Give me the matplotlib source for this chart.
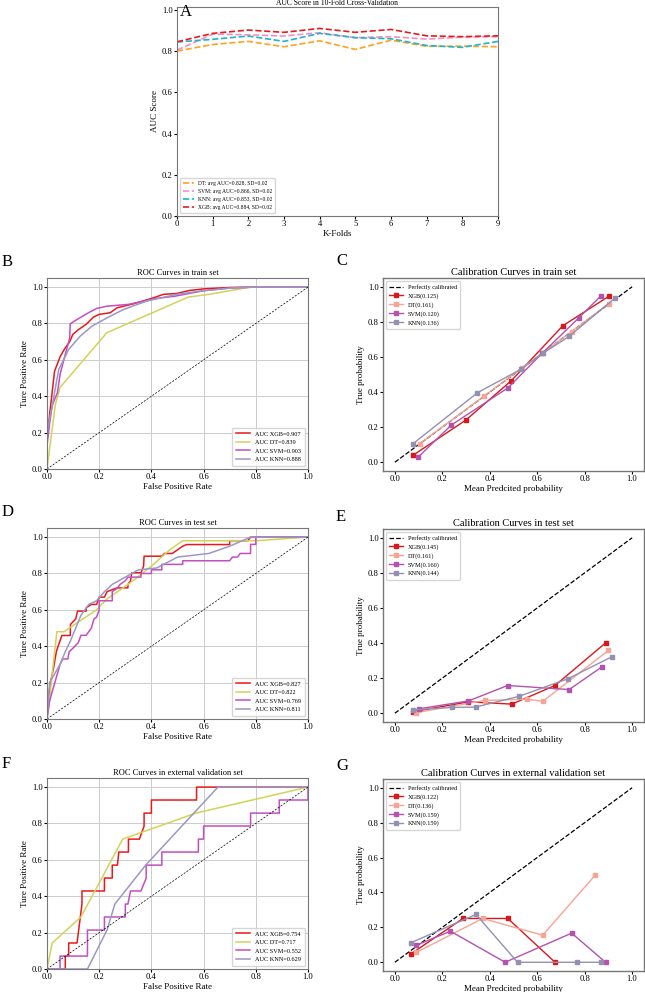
import matplotlib
matplotlib.use("Agg")
import matplotlib.pyplot as plt
import numpy as np

plt.rcParams['font.family'] = ['Liberation Serif', 'DejaVu Serif']

# ---------------- Panel A data ----------------
folds = list(range(10))
cv_dt = [0.801, 0.833, 0.848, 0.822, 0.851, 0.809, 0.854, 0.824, 0.825, 0.822]
cv_svm = [0.806, 0.883, 0.880, 0.874, 0.890, 0.866, 0.871, 0.859, 0.869, 0.871]
cv_knn = [0.845, 0.858, 0.874, 0.848, 0.887, 0.866, 0.861, 0.828, 0.819, 0.848]
cv_xgb = [0.846, 0.887, 0.903, 0.892, 0.911, 0.892, 0.906, 0.875, 0.871, 0.875]
cv_labels = ["DT: avg AUC=0.828, SD=0.02", "SVM: avg AUC=0.866, SD=0.02",
             "KNN: avg AUC=0.853, SD=0.02", "XGB: avg AUC=0.884, SD=0.02"]

# ---------------- ROC data: train ----------------
tr_xgb_fpr = [0, 0.0, 0.01, 0.029, 0.051, 0.07, 0.087, 0.099, 0.121, 0.15, 0.178, 0.2, 0.242, 0.268, 0.331, 0.401, 0.446, 0.497, 0.548, 0.599, 0.7, 0.78, 1.0]
tr_xgb_tpr = [0, 0.15, 0.3, 0.538, 0.62, 0.666, 0.70, 0.74, 0.767, 0.795, 0.835, 0.85, 0.859, 0.886, 0.908, 0.938, 0.96, 0.965, 0.982, 0.99, 0.998, 1.0, 1.0]
tr_dt_fpr = [0, 0.032, 0.051, 0.229, 0.541, 0.62, 0.78, 1.0]
tr_dt_tpr = [0, 0.354, 0.45, 0.749, 0.945, 0.96, 1.0, 1.0]
tr_svm_fpr = [0, 0.0, 0.01, 0.02, 0.04, 0.05, 0.07, 0.087, 0.089, 0.115, 0.159, 0.191, 0.229, 0.312, 0.42, 0.49, 0.6, 0.7, 0.8, 1.0]
tr_svm_tpr = [0, 0.13, 0.25, 0.35, 0.42, 0.52, 0.63, 0.72, 0.798, 0.822, 0.859, 0.883, 0.895, 0.905, 0.938, 0.95, 0.98, 0.995, 1.0, 1.0]
tr_knn_fpr = [0, 0.0, 0.02, 0.045, 0.083, 0.127, 0.172, 0.229, 0.293, 0.382, 0.497, 0.586, 0.713, 0.8, 1.0]
tr_knn_tpr = [0, 0.2, 0.35, 0.547, 0.657, 0.73, 0.785, 0.83, 0.877, 0.923, 0.96, 0.978, 0.996, 1.0, 1.0]
tr_auc = [0.907, 0.839, 0.903, 0.888]

# ---------------- ROC data: test ----------------
te_xgb_fpr = [0, 0.004, 0.013, 0.025, 0.036, 0.045, 0.057, 0.089, 0.09, 0.11, 0.117, 0.15, 0.15, 0.17, 0.19, 0.2, 0.22, 0.23, 0.268, 0.31, 0.31, 0.32, 0.325, 0.36, 0.37, 0.372, 0.44, 0.45, 0.48, 0.5, 0.52, 0.535, 0.7, 0.7, 0.77, 0.78, 1.0]
te_xgb_tpr = [0, 0.1, 0.2, 0.28, 0.372, 0.41, 0.459, 0.459, 0.52, 0.55, 0.593, 0.593, 0.611, 0.63, 0.63, 0.67, 0.67, 0.70, 0.721, 0.721, 0.74, 0.76, 0.804, 0.804, 0.84, 0.895, 0.895, 0.91, 0.91, 0.93, 0.95, 0.959, 0.959, 0.98, 0.98, 1.0, 1.0]
te_dt_fpr = [0, 0.01, 0.02, 0.038, 0.065, 0.19, 0.23, 0.32, 0.4, 0.47, 0.52, 0.8, 1.0]
te_dt_tpr = [0, 0.1, 0.25, 0.48, 0.48, 0.6, 0.66, 0.75, 0.84, 0.93, 0.98, 0.98, 1.0]
te_svm_fpr = [0, 0.005, 0.01, 0.02, 0.03, 0.04, 0.05, 0.06, 0.08, 0.085, 0.1, 0.12, 0.13, 0.15, 0.17, 0.18, 0.19, 0.2, 0.2, 0.25, 0.25, 0.27, 0.28, 0.3, 0.31, 0.36, 0.36, 0.4, 0.4, 0.44, 0.44, 0.52, 0.52, 0.7, 0.71, 0.73, 0.74, 0.78, 0.78, 0.8, 0.8, 1.0]
te_svm_tpr = [0, 0.05, 0.1, 0.15, 0.2, 0.25, 0.3, 0.33, 0.33, 0.37, 0.39, 0.42, 0.46, 0.46, 0.5, 0.55, 0.56, 0.6, 0.65, 0.65, 0.7, 0.72, 0.74, 0.76, 0.78, 0.78, 0.8, 0.8, 0.82, 0.82, 0.85, 0.85, 0.87, 0.87, 0.89, 0.89, 0.91, 0.91, 0.96, 0.96, 1.0, 1.0]
te_knn_fpr = [0, 0.005, 0.01, 0.03, 0.05, 0.07, 0.09, 0.11, 0.13, 0.16, 0.19, 0.22, 0.25, 0.3, 0.35, 0.42, 0.5, 0.62, 0.7, 0.78, 1.0]
te_knn_tpr = [0, 0.1, 0.2, 0.25, 0.3, 0.37, 0.43, 0.5, 0.57, 0.63, 0.65, 0.7, 0.74, 0.78, 0.82, 0.83, 0.89, 0.91, 0.95, 1.0, 1.0]
te_auc = [0.827, 0.822, 0.769, 0.811]

# ---------------- ROC data: external ----------------
ex_xgb_fpr = [0, 0.07, 0.07, 0.083, 0.083, 0.115, 0.134, 0.134, 0.22, 0.22, 0.25, 0.25, 0.27, 0.275, 0.312, 0.312, 0.354, 0.372, 0.372, 0.40, 0.40, 0.573, 0.573, 1.0]
ex_xgb_tpr = [0, 0, 0.071, 0.071, 0.143, 0.143, 0.357, 0.429, 0.429, 0.5, 0.5, 0.571, 0.571, 0.643, 0.643, 0.714, 0.714, 0.786, 0.857, 0.857, 0.929, 0.929, 1.0, 1.0]
ex_dt_fpr = [0, 0.02, 0.13, 0.29, 0.57, 1.0]
ex_dt_tpr = [0, 0.143, 0.286, 0.714, 0.857, 1.0]
ex_svm_fpr = [0, 0.05, 0.05, 0.155, 0.155, 0.22, 0.22, 0.30, 0.30, 0.31, 0.32, 0.36, 0.38, 0.38, 0.44, 0.44, 0.58, 0.58, 0.60, 0.60, 0.78, 0.78, 0.89, 0.89, 1.0, 1.0]
ex_svm_tpr = [0, 0, 0.071, 0.071, 0.214, 0.214, 0.286, 0.286, 0.357, 0.357, 0.429, 0.429, 0.5, 0.571, 0.571, 0.643, 0.643, 0.714, 0.714, 0.786, 0.786, 0.857, 0.857, 0.929, 0.929, 1.0]
ex_knn_fpr = [0, 0.155, 0.23, 0.26, 0.378, 0.655, 1.0]
ex_knn_tpr = [0, 0, 0.214, 0.357, 0.571, 1.0, 1.0]
ex_auc = [0.754, 0.717, 0.552, 0.629]

# ---------------- Calibration data ----------------
cal_tr = {
    "XGB": ([0.077, 0.299, 0.491, 0.708, 0.902], [0.04, 0.24, 0.465, 0.778, 0.946]),
    "DT": ([0.105, 0.376, 0.537, 0.62, 0.745, 0.902], [0.106, 0.377, 0.538, 0.62, 0.745, 0.904]),
    "SVM": ([0.098, 0.238, 0.478, 0.62, 0.774, 0.87], [0.029, 0.212, 0.425, 0.62, 0.821, 0.95]),
    "KNN": ([0.077, 0.348, 0.53, 0.624, 0.734, 0.927], [0.106, 0.396, 0.529, 0.621, 0.717, 0.935]),
}
cal_tr_brier = [0.125, 0.161, 0.120, 0.136]
cal_te = {
    "XGB": ([0.075, 0.31, 0.493, 0.675, 0.89], [0.008, 0.065, 0.052, 0.158, 0.403]),
    "DT": ([0.09, 0.38, 0.557, 0.624, 0.9], [0.003, 0.073, 0.08, 0.068, 0.358]),
    "SVM": ([0.1, 0.31, 0.475, 0.735, 0.873], [0.025, 0.07, 0.158, 0.135, 0.265]),
    "KNN": ([0.075, 0.24, 0.34, 0.525, 0.73, 0.915], [0.02, 0.033, 0.035, 0.097, 0.197, 0.322]),
}
cal_te_brier = [0.145, 0.161, 0.160, 0.144]
cal_ex = {
    "XGB": ([0.066, 0.287, 0.476, 0.675], [0.046, 0.251, 0.251, 0.0]),
    "DT": ([0.091, 0.37, 0.623, 0.845], [0.057, 0.251, 0.155, 0.5]),
    "SVM": ([0.091, 0.234, 0.465, 0.745, 0.888], [0.098, 0.178, 0.0, 0.167, 0.0]),
    "KNN": ([0.066, 0.342, 0.517, 0.766, 0.868], [0.111, 0.274, 0.0, 0.0, 0.0]),
}
cal_ex_brier = [0.122, 0.136, 0.159, 0.159]

models = ["XGB", "DT", "SVM", "KNN"]

W, H = 645, 992
fig = plt.figure(figsize=(W / 100, H / 100), dpi=100)

def rect(l, t, r, b):
    return [l / W, 1 - b / H, (r - l) / W, (b - t) / H]

frame_col = "#777777"
tick_fs = 6.2
lab_fs = 6.5

# ---------------- Panel A ----------------
axA = fig.add_axes(rect(177, 7, 498, 216))
cv_colors = ["#ffa21f", "#f38fc3", "#1fb4c8", "#e51c1f"]
for vals, lab, c in zip([cv_dt, cv_svm, cv_knn, cv_xgb], cv_labels, cv_colors):
    axA.plot(folds, vals, linestyle="--", color=c, lw=1.2, label=lab)
axA.set_xlim(0, 9)
axA.set_ylim(0, 1.015)
axA.set_xticks(folds)
axA.set_yticks(np.arange(0, 1.01, 0.2))
axA.set_title("AUC Score in 10-Fold Cross-Validation", fontsize=5.5, pad=1)
axA.set_xlabel("K-Folds", fontsize=lab_fs, labelpad=1)
axA.set_ylabel("AUC Score", fontsize=lab_fs, labelpad=2)
axA.tick_params(labelsize=tick_fs, length=2, pad=1)
axA.legend(loc="lower left", fontsize=4.0, frameon=True, handlelength=2.0, borderpad=0.5, labelspacing=0.55)
for s in axA.spines.values():
    s.set_color(frame_col)
    s.set_linewidth(0.8)

roc_colors = ["#e8191c", "#d2d25a", "#c24fc0", "#9a98c6"]
cal_colors = ["#d7191c", "#f6a495", "#b452ad", "#9391b1"]

def roc_panel(box, title, curves, aucs, letter, lpos):
    ax = fig.add_axes(rect(*box))
    for (f, t), a, m, c in zip(curves, aucs, models, roc_colors):
        ax.plot(f, t, color=c, lw=1.1, label="AUC %s=%.3f" % (m, a))
    ax.plot([0, 1], [0, 1], linestyle="--", color="black", lw=0.5, dashes=(3, 2))
    ax.set_xlim(0, 1)
    ax.set_ylim(0, 1.05)
    ax.set_xticks(np.arange(0, 1.01, 0.2))
    ax.set_yticks(np.arange(0, 1.01, 0.2))
    ax.grid(True, color="#cccccc", lw=0.7)
    ax.set_axisbelow(True)
    ax.set_title(title, fontsize=6, pad=2)
    ax.set_xlabel("False Positive Rate", fontsize=lab_fs, labelpad=1)
    ax.set_ylabel("Ture Positive Rate", fontsize=lab_fs, labelpad=2)
    ax.tick_params(labelsize=tick_fs, length=2, pad=1)
    ax.legend(loc="lower right", fontsize=4.5, frameon=True, handlelength=2.3, borderpad=0.6, labelspacing=0.5)
    for s in ax.spines.values():
        s.set_color(frame_col)
        s.set_linewidth(0.8)
    fig.text(lpos[0] / W, 1 - lpos[1] / H, letter, fontsize=12, ha="left", va="center")
    return ax

def cal_panel(box, title, data, briers, letter, lpos):
    ax = fig.add_axes(rect(*box))
    ax.plot([0, 1], [0, 1], linestyle="--", color="black", lw=0.9, label="Perfectly calibrated")
    for m, c, b in zip(models, cal_colors, briers):
        x, y = data[m]
        ax.plot(x, y, marker="s", markersize=3.5, color=c, lw=1.0, label="%s(%.3f)" % (m, b))
    ax.set_xlim(-0.05, 1.05)
    ax.set_ylim(-0.05, 1.05)
    ax.set_xticks(np.arange(0, 1.01, 0.2))
    ax.set_yticks(np.arange(0, 1.01, 0.2))
    ax.set_title(title, fontsize=7.5, pad=2)
    ax.set_xlabel("Mean Predcited probability", fontsize=lab_fs, labelpad=1)
    ax.set_ylabel("True probability", fontsize=lab_fs, labelpad=2)
    ax.tick_params(labelsize=tick_fs, length=2, pad=1)
    ax.legend(loc="upper left", fontsize=4.5, frameon=True, handlelength=2.2, borderpad=0.5, labelspacing=0.5)
    for s in ax.spines.values():
        s.set_color(frame_col)
        s.set_linewidth(1.0)
    fig.text(lpos[0] / W, 1 - lpos[1] / H, letter, fontsize=12, ha="left", va="center")
    return ax

fig.text(180 / W, 1 - 12 / H, "A", fontsize=12, ha="left", va="center")

roc_panel((47, 278, 308, 469), "ROC Curves in train set",
          [(tr_xgb_fpr, tr_xgb_tpr), (tr_dt_fpr, tr_dt_tpr), (tr_svm_fpr, tr_svm_tpr), (tr_knn_fpr, tr_knn_tpr)],
          tr_auc, "B", (2, 262))
cal_panel((383, 278, 644, 471), "Calibration Curves in train set", cal_tr, cal_tr_brier, "C", (336, 261))

roc_panel((47, 528, 308, 719), "ROC Curves in test set",
          [(te_xgb_fpr, te_xgb_tpr), (te_dt_fpr, te_dt_tpr), (te_svm_fpr, te_svm_tpr), (te_knn_fpr, te_knn_tpr)],
          te_auc, "D", (2, 512))
cal_panel((383, 529, 644, 722), "Calibration Curves in test set", cal_te, cal_te_brier, "E", (336, 517))

roc_panel((47, 778, 308, 969), "ROC Curves in external validation set",
          [(ex_xgb_fpr, ex_xgb_tpr), (ex_dt_fpr, ex_dt_tpr), (ex_svm_fpr, ex_svm_tpr), (ex_knn_fpr, ex_knn_tpr)],
          ex_auc, "F", (2, 764))
cal_panel((383, 779, 644, 971), "Calibration Curves in external validation set", cal_ex, cal_ex_brier, "G", (336, 766))

fig.savefig("out.png", dpi=100)
